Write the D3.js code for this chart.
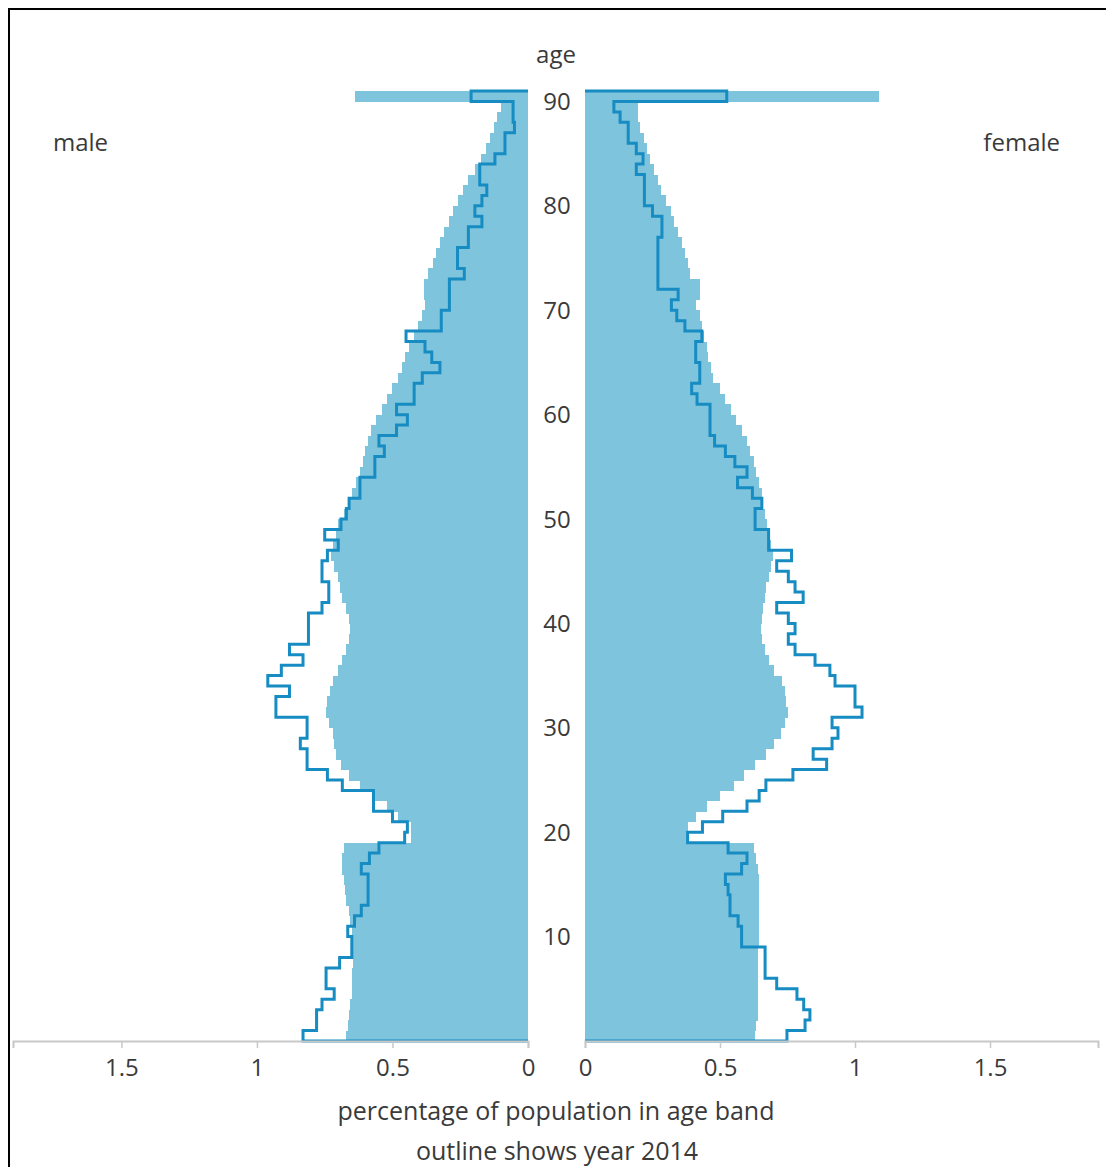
<!DOCTYPE html>
<html>
<head>
<meta charset="utf-8">
<script src="https://cdn.jsdelivr.net/npm/d3@7"></script>
<style>
  html, body { margin: 0; padding: 0; background: #fff; }
  svg { display: block; font-family: "Open Sans", sans-serif; }
</style>
</head>
<body>
<svg id="chart" width="1106" height="1167"></svg>
<script>
// ages 0..90 (90 = 90+)
const ages = d3.range(0, 91);

// filled bars (current projection), male
const maleFill = [
  0.67, 0.665, 0.66, 0.655, 0.65, 0.65, 0.65, 0.645, 0.645, 0.645,
  0.65, 0.655, 0.66, 0.67, 0.675, 0.68, 0.685, 0.685, 0.68, 0.43,
  0.43, 0.48, 0.52, 0.57, 0.62, 0.66, 0.69, 0.71, 0.715, 0.72,
  0.735, 0.745, 0.74, 0.73, 0.72, 0.70, 0.685, 0.67, 0.66, 0.655,
  0.66, 0.67, 0.685, 0.695, 0.70, 0.715, 0.725, 0.72, 0.71, 0.70,
  0.68, 0.665, 0.65, 0.635, 0.62, 0.61, 0.60, 0.59, 0.58, 0.56,
  0.54, 0.52, 0.50, 0.48, 0.465, 0.455, 0.44, 0.42, 0.405, 0.39,
  0.38, 0.385, 0.385, 0.37, 0.35, 0.34, 0.325, 0.31, 0.29, 0.278,
  0.26, 0.24, 0.22, 0.195, 0.175, 0.155, 0.14, 0.125, 0.115, 0.10,
  0.64
];

// filled bars, female
const femaleFill = [
  0.63, 0.635, 0.64, 0.64, 0.64, 0.64, 0.64, 0.64, 0.64, 0.645,
  0.645, 0.645, 0.645, 0.645, 0.645, 0.645, 0.64, 0.635, 0.625, 0.38,
  0.38, 0.41, 0.45, 0.50, 0.55, 0.59, 0.63, 0.67, 0.70, 0.725,
  0.74, 0.75, 0.745, 0.74, 0.73, 0.70, 0.68, 0.665, 0.655, 0.65,
  0.655, 0.66, 0.665, 0.67, 0.68, 0.69, 0.695, 0.69, 0.68, 0.675,
  0.665, 0.66, 0.655, 0.645, 0.635, 0.625, 0.61, 0.60, 0.58, 0.56,
  0.54, 0.52, 0.50, 0.475, 0.465, 0.455, 0.45, 0.44, 0.435, 0.425,
  0.41, 0.425, 0.425, 0.39, 0.38, 0.37, 0.36, 0.345, 0.33, 0.32,
  0.30, 0.28, 0.27, 0.255, 0.24, 0.23, 0.22, 0.205, 0.195, 0.195,
  1.09
];

// outline, year 2014, male
const male2014 = [
  0.83, 0.78, 0.78, 0.76, 0.715, 0.745, 0.745, 0.695, 0.65, 0.65,
  0.665, 0.64, 0.615, 0.59, 0.59, 0.59, 0.615, 0.585, 0.55, 0.455,
  0.445, 0.50, 0.57, 0.57, 0.685, 0.74, 0.815, 0.815, 0.84, 0.815,
  0.815, 0.93, 0.93, 0.88, 0.96, 0.91, 0.83, 0.88, 0.81, 0.81,
  0.81, 0.76, 0.735, 0.735, 0.76, 0.76, 0.74, 0.70, 0.75, 0.69,
  0.67, 0.66, 0.62, 0.62, 0.565, 0.565, 0.53, 0.55, 0.485, 0.445,
  0.485, 0.42, 0.42, 0.39, 0.325, 0.355, 0.38, 0.45, 0.32, 0.32,
  0.29, 0.29, 0.29, 0.235, 0.26, 0.26, 0.22, 0.22, 0.17, 0.196,
  0.17, 0.152, 0.178, 0.178, 0.122, 0.085, 0.085, 0.05, 0.055, 0.055,
  0.21
];

// outline, year 2014, female
const female2014 = [
  0.748, 0.815, 0.833, 0.81, 0.785, 0.71, 0.667, 0.667, 0.667, 0.58,
  0.58, 0.567, 0.537, 0.537, 0.53, 0.52, 0.58, 0.60, 0.53, 0.38,
  0.435, 0.51, 0.60, 0.645, 0.67, 0.77, 0.895, 0.845, 0.915, 0.937,
  0.915, 1.026, 1.0, 1.0, 0.926, 0.907, 0.852, 0.778, 0.753, 0.778,
  0.753, 0.71, 0.808, 0.778, 0.753, 0.71, 0.765, 0.68, 0.68, 0.63,
  0.63, 0.655, 0.62, 0.565, 0.60, 0.555, 0.52, 0.48, 0.463, 0.463,
  0.463, 0.415, 0.395, 0.425, 0.425, 0.41, 0.41, 0.433, 0.37, 0.34,
  0.32, 0.345, 0.27, 0.27, 0.27, 0.27, 0.27, 0.285, 0.285, 0.25,
  0.22, 0.22, 0.22, 0.19, 0.215, 0.19, 0.16, 0.16, 0.13, 0.107,
  0.525
];

const xTicks = [0, 0.5, 1, 1.5];
const ageTicks = [10, 20, 30, 40, 50, 60, 70, 80, 90];
const xMax = 1.9;

const fillColor = "#7ec4dc";
const lineColor = "#168cc2";
const textColor = "#3a3a3a";
const fontSize = "24px";
const titleSize = "25px";

const svg = d3.select("#chart");

// page frame
svg.append("line").attr("x1", 8).attr("x2", 1106).attr("y1", 9).attr("y2", 9)
  .attr("stroke", "#000").attr("stroke-width", 2);
svg.append("line").attr("x1", 9).attr("x2", 9).attr("y1", 8).attr("y2", 1167)
  .attr("stroke", "#000").attr("stroke-width", 2);

const y = d3.scaleLinear().domain([0, 91]).range([1041, 91]);
const xL = d3.scaleLinear().domain([0, xMax]).range([528, 528 - 515]);
const xR = d3.scaleLinear().domain([0, xMax]).range([585, 585 + 513]);

// filled bars
function bars(vals, sx, side) {
  svg.append("g").attr("shape-rendering", "crispEdges")
    .selectAll("rect").data(ages).join("rect")
    .attr("x", a => side === "L" ? sx(vals[a]) : sx(0))
    .attr("width", a => Math.abs(sx(vals[a]) - sx(0)))
    .attr("y", a => y(a + 1))
    .attr("height", a => y(a) - y(a + 1) + 0.6)
    .attr("fill", fillColor);
}
bars(maleFill, xL, "L");
bars(femaleFill, xR, "R");

// outline step paths
function outline(vals, sx) {
  const pts = [[0, 0]];
  ages.forEach(a => { pts.push([vals[a], a]); pts.push([vals[a], a + 1]); });
  pts.push([0, 91]);
  const line = d3.line().x(d => sx(d[0])).y(d => y(d[1]));
  svg.append("path").attr("d", line(pts))
    .attr("fill", "none").attr("stroke", lineColor)
    .attr("stroke-width", 3).attr("stroke-linejoin", "miter");
}
outline(male2014, xL);
outline(female2014, xR);

// x axes
function xAxis(sx) {
  const g = svg.append("g").attr("transform", "translate(0,1041)")
    .call(d3.axisBottom(sx).tickValues(xTicks).tickFormat(d => String(d))
      .tickSize(7).tickPadding(11));
  g.select(".domain").attr("stroke", "#c8c8c8").attr("stroke-width", 2);
  g.selectAll(".tick line").attr("stroke", "#c8c8c8").attr("stroke-width", 1.5);
  g.selectAll(".tick text").attr("fill", textColor)
    .style("font-family", '"Open Sans", sans-serif').style("font-size", fontSize);
}
xAxis(xL);
xAxis(xR);

// age labels in the middle
svg.append("g").selectAll("text").data(ageTicks).join("text")
  .attr("x", 557).attr("y", a => y(a) - 1)
  .attr("text-anchor", "middle").attr("dominant-baseline", "central")
  .attr("fill", textColor).style("font-size", fontSize)
  .text(a => a);

svg.append("text").attr("x", 556).attr("y", 53)
  .attr("text-anchor", "middle").attr("dominant-baseline", "central")
  .attr("fill", textColor).style("font-size", fontSize).text("age");

svg.append("text").attr("x", 53).attr("y", 141)
  .attr("dominant-baseline", "central")
  .attr("fill", textColor).style("font-size", fontSize).text("male");
svg.append("text").attr("x", 1060).attr("y", 141)
  .attr("text-anchor", "end").attr("dominant-baseline", "central")
  .attr("fill", textColor).style("font-size", fontSize).text("female");

svg.append("text").attr("x", 556).attr("y", 1110)
  .attr("text-anchor", "middle").attr("dominant-baseline", "central")
  .attr("fill", textColor).style("font-size", titleSize)
  .text("percentage of population in age band");
svg.append("text").attr("x", 557).attr("y", 1150)
  .attr("text-anchor", "middle").attr("dominant-baseline", "central")
  .attr("fill", textColor).style("font-size", titleSize)
  .text("outline shows year 2014");
</script>
</body>
</html>
